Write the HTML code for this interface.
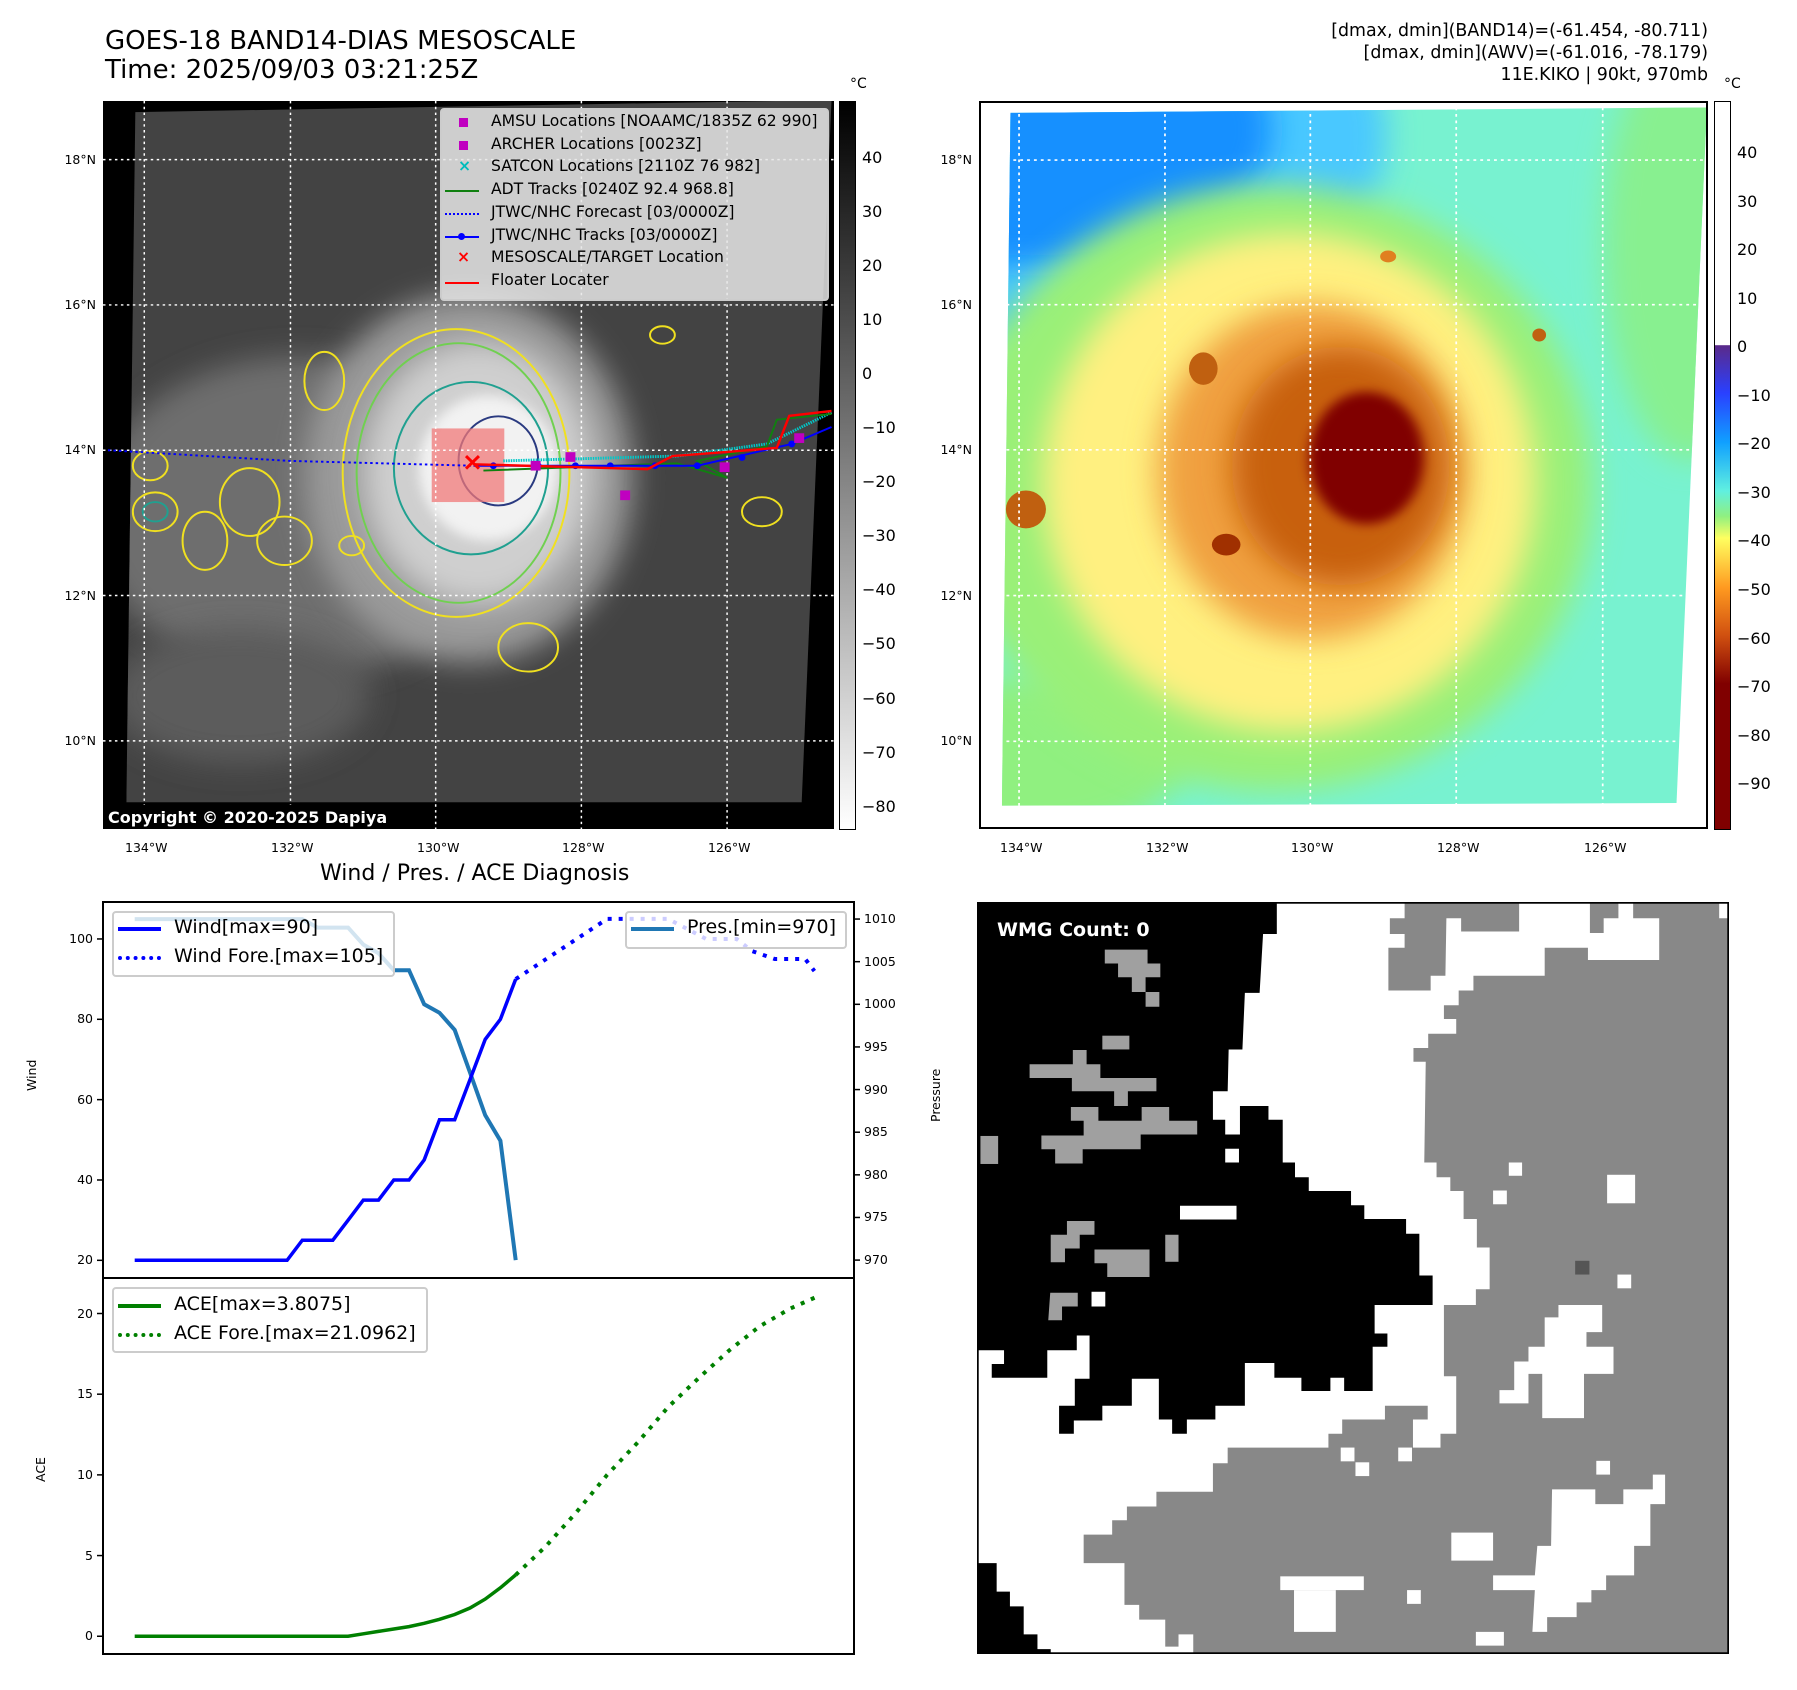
<!DOCTYPE html>
<html><head><meta charset="utf-8"><style>
body{margin:0;background:#fff;}
#root{position:relative;width:1797px;height:1690px;overflow:hidden;font-family:"DejaVu Sans","Liberation Sans",sans-serif;color:#000;}
.t{position:absolute;white-space:nowrap;}
.lab{position:absolute;font-size:12.5px;white-space:nowrap;}
.cb{position:absolute;font-size:16px;white-space:nowrap;}
.leg{position:absolute;background:rgba(230,230,230,0.85);border:2px solid #ccc;border-radius:4px;}
.le{position:absolute;font-size:15.6px;white-space:nowrap;}
.ce{position:absolute;font-size:19px;white-space:nowrap;}
</style></head><body>
<div id="root">
<div class="t" style="left:105px;top:26px;font-size:26px;">GOES-18 BAND14-DIAS MESOSCALE</div>
<div class="t" style="left:105px;top:55px;font-size:26px;">Time: 2025/09/03 03:21:25Z</div>
<div class="t" style="right:89px;top:21px;font-size:17.4px;text-align:right;line-height:21.8px;">[dmax, dmin](BAND14)=(-61.454, -80.711)<br>[dmax, dmin](AWV)=(-61.016, -78.179)<br>11E.KIKO | 90kt, 970mb</div>

<!-- LEFT MAP -->
<svg style="position:absolute;left:103px;top:101px;" width="731" height="728" viewBox="25 22 1470 1503" preserveAspectRatio="none">
<defs>
<filter id="bl" x="-50%" y="-50%" width="200%" height="200%"><feGaussianBlur stdDeviation="30"/></filter>
<filter id="bl2" x="-50%" y="-50%" width="200%" height="200%"><feGaussianBlur stdDeviation="12"/></filter>
<clipPath id="sat1"><polygon points="90,45 1490,20 1430,1470 72,1470"/></clipPath>
</defs>
<rect x="25" y="22" width="1470" height="1503" fill="#000"/>
<g clip-path="url(#sat1)">
<rect x="0" y="0" width="1600" height="1600" fill="#434343"/>
<ellipse cx="420" cy="880" rx="420" ry="330" fill="#6e6e6e" filter="url(#bl)"/>
<ellipse cx="760" cy="800" rx="330" ry="380" fill="#9a9a9a" filter="url(#bl)"/>
<ellipse cx="780" cy="790" rx="230" ry="270" fill="#cfcfcf" filter="url(#bl)"/>
<ellipse cx="800" cy="780" rx="140" ry="150" fill="#f2f2f2" filter="url(#bl2)"/>
<ellipse cx="300" cy="1250" rx="260" ry="140" fill="#5c5c5c" filter="url(#bl)"/>
</g>
<g fill="none" stroke-width="4">
<ellipse cx="735" cy="790" rx="228" ry="297" stroke="#f0e020"/>
<ellipse cx="740" cy="790" rx="205" ry="268" stroke="#70d050"/>
<ellipse cx="765" cy="780" rx="155" ry="178" stroke="#20a090"/>
<ellipse cx="820" cy="765" rx="80" ry="92" stroke="#2a3a80"/>
<ellipse cx="130" cy="870" rx="45" ry="40" stroke="#f0e020"/>
<ellipse cx="230" cy="930" rx="45" ry="60" stroke="#f0e020"/>
<ellipse cx="320" cy="850" rx="60" ry="70" stroke="#f0e020"/>
<ellipse cx="470" cy="600" rx="40" ry="60" stroke="#f0e020"/>
<ellipse cx="120" cy="775" rx="35" ry="30" stroke="#f0e020"/>
<ellipse cx="390" cy="930" rx="55" ry="50" stroke="#f0e020"/>
<ellipse cx="880" cy="1150" rx="60" ry="50" stroke="#f0e020"/>
<ellipse cx="1350" cy="870" rx="40" ry="30" stroke="#f0e020"/>
<ellipse cx="1150" cy="505" rx="25" ry="18" stroke="#f0e020"/>
<ellipse cx="525" cy="940" rx="25" ry="20" stroke="#f0e020"/>
<ellipse cx="130" cy="870" rx="25" ry="20" stroke="#20a090"/>
</g>
<rect x="686" y="698" width="146" height="152" fill="rgba(240,120,120,0.75)"/>
<g stroke="#fff" stroke-width="3" stroke-dasharray="5 7">
<line x1="108" y1="22" x2="108" y2="1525"/><line x1="402" y1="22" x2="402" y2="1525"/><line x1="694" y1="22" x2="694" y2="1525"/><line x1="987" y1="22" x2="987" y2="1525"/><line x1="1280" y1="22" x2="1280" y2="1525"/>
<line x1="25" y1="143" x2="1495" y2="143"/><line x1="25" y1="443" x2="1495" y2="443"/><line x1="25" y1="743" x2="1495" y2="743"/><line x1="25" y1="1043" x2="1495" y2="1043"/><line x1="25" y1="1343" x2="1495" y2="1343"/>
</g>
<polyline points="35,743 400,765 770,775" fill="none" stroke="#00f" stroke-width="4" stroke-dasharray="5 6"/>
<polyline points="830,765 1180,755 1360,730 1490,665" fill="none" stroke="#00c8c8" stroke-width="6" stroke-dasharray="3 2"/>
<polyline points="790,785 1180,770 1280,800 1220,765 1360,735 1380,680 1490,668" fill="none" stroke="#108010" stroke-width="4"/>
<polyline points="770,775 1220,775 1410,730 1490,695" fill="none" stroke="#00f" stroke-width="4"/>
<g fill="#00f"><circle cx="810" cy="775" r="7"/><circle cx="900" cy="775" r="7"/><circle cx="975" cy="775" r="7"/><circle cx="1045" cy="775" r="7"/><circle cx="1135" cy="775" r="7"/><circle cx="1220" cy="775" r="7"/><circle cx="1310" cy="758" r="7"/><circle cx="1410" cy="730" r="7"/></g>
<polyline points="770,772 1120,782 1170,755 1300,745 1380,738 1405,672 1490,662" fill="none" stroke="#f00" stroke-width="5"/>
<g fill="#c000c0"><rect x="955" y="747" width="20" height="20"/><rect x="1065" y="826" width="20" height="20"/><rect x="1265" y="768" width="20" height="20"/><rect x="1415" y="708" width="20" height="20"/><rect x="885" y="765" width="20" height="20"/></g>
<path d="M755,755 L781,781 M781,755 L755,781" stroke="#f00" stroke-width="6"/>
<rect x="25" y="1475" width="625" height="50" fill="#000"/>
</svg>
<div class="t" style="left:108px;top:808px;font-size:16px;font-weight:bold;color:#fff;">Copyright © 2020-2025 Dapiya</div>
<div class="leg" style="left:440px;top:108px;width:385px;height:189px;"></div>
<div>
<div style="position:absolute;left:459px;top:118px;width:9px;height:9px;background:#c000c0;"></div><div class="le" style="left:491px;top:112px;">AMSU Locations [NOAAMC/1835Z 62 990]</div>
<div style="position:absolute;left:459px;top:141px;width:9px;height:9px;background:#c000c0;"></div><div class="le" style="left:491px;top:135px;">ARCHER Locations [0023Z]</div>
<div class="le" style="left:458px;top:157px;color:#00bcbc;font-weight:bold;">×</div><div class="le" style="left:491px;top:157px;">SATCON Locations [2110Z 76 982]</div>
<div style="position:absolute;left:445px;top:190px;width:34px;height:2px;background:#108010;"></div><div class="le" style="left:491px;top:180px;">ADT Tracks [0240Z 92.4 968.8]</div>
<div style="position:absolute;left:445px;top:213px;width:34px;border-top:2px dotted #00f;"></div><div class="le" style="left:491px;top:203px;">JTWC/NHC Forecast [03/0000Z]</div>
<div style="position:absolute;left:445px;top:236px;width:34px;height:2px;background:#00f;"></div><div style="position:absolute;left:458px;top:233px;width:7px;height:7px;border-radius:50%;background:#00f;"></div><div class="le" style="left:491px;top:226px;">JTWC/NHC Tracks [03/0000Z]</div>
<div class="le" style="left:457px;top:248px;color:#f00;font-weight:bold;">×</div><div class="le" style="left:491px;top:248px;">MESOSCALE/TARGET Location</div>
<div style="position:absolute;left:445px;top:282px;width:34px;height:2px;background:#f00;"></div><div class="le" style="left:491px;top:271px;">Floater Locater</div>
</div>
<div style="position:absolute;left:839px;top:101px;width:15px;height:727px;border:1px solid #000;background:linear-gradient(#000,#fff);"></div>
<div class="cb" style="left:850px;top:76px;font-size:14px;">°C</div>

<!-- RIGHT MAP -->
<svg style="position:absolute;left:979px;top:101px;" width="729" height="728" viewBox="138 186 1274 1344" preserveAspectRatio="none">
<defs>
<clipPath id="sat2"><polygon points="193,208 1410,198 1357,1482 178,1487"/></clipPath>
<filter id="bl3" x="-50%" y="-50%" width="200%" height="200%"><feGaussianBlur stdDeviation="28"/></filter>
<filter id="bl4" x="-50%" y="-50%" width="200%" height="200%"><feGaussianBlur stdDeviation="10"/></filter>
</defs>
<rect x="138" y="186" width="1274" height="1344" fill="#fff"/>
<g clip-path="url(#sat2)">
<rect x="0" y="0" width="1600" height="1600" fill="#78f2d0"/>
<ellipse cx="1380" cy="450" rx="150" ry="400" fill="#88f090" filter="url(#bl3)"/>
<ellipse cx="200" cy="1400" rx="300" ry="150" fill="#90f080" filter="url(#bl3)"/>
<ellipse cx="250" cy="250" rx="600" ry="380" fill="#48c8ff" filter="url(#bl3)"/>
<ellipse cx="230" cy="240" rx="420" ry="250" fill="#1890ff" filter="url(#bl3)"/>
<ellipse cx="650" cy="900" rx="560" ry="560" fill="#9af078" filter="url(#bl3)"/>
<ellipse cx="680" cy="890" rx="430" ry="460" fill="#fff080" filter="url(#bl3)"/>
<ellipse cx="720" cy="870" rx="270" ry="310" fill="#f0a040" filter="url(#bl3)"/>
<ellipse cx="770" cy="860" rx="190" ry="220" fill="#c86010" filter="url(#bl3)"/>
<ellipse cx="815" cy="845" rx="100" ry="122" fill="#800000" filter="url(#bl4)"/>
<ellipse cx="220" cy="940" rx="35" ry="35" fill="#c06010"/>
<ellipse cx="570" cy="1005" rx="25" ry="20" fill="#a03000"/>
<ellipse cx="530" cy="680" rx="25" ry="30" fill="#c06010"/>
<ellipse cx="1117" cy="618" rx="12" ry="12" fill="#c06010"/>
<ellipse cx="853" cy="473" rx="14" ry="11" fill="#e08020"/>
</g>
<g stroke="#fff" stroke-width="3" stroke-dasharray="5 7">
<line x1="208" y1="186" x2="208" y2="1530"/><line x1="463" y1="186" x2="463" y2="1530"/><line x1="717" y1="186" x2="717" y2="1530"/><line x1="972" y1="186" x2="972" y2="1530"/><line x1="1228" y1="186" x2="1228" y2="1530"/>
<line x1="138" y1="295" x2="1412" y2="295"/><line x1="138" y1="562" x2="1412" y2="562"/><line x1="138" y1="830" x2="1412" y2="830"/><line x1="138" y1="1099" x2="1412" y2="1099"/><line x1="138" y1="1368" x2="1412" y2="1368"/>
</g>
</svg>
<div style="position:absolute;left:979px;top:101px;width:725px;height:724px;border:2px solid #000;"></div>
<div style="position:absolute;left:1714px;top:101px;width:15px;height:727px;border:1px solid #000;background:linear-gradient(#fff 0%,#fff 33.4%,#5a2a8a 33.5%,#2a40ff 40%,#10a0ff 46.8%,#60f0e0 53.5%,#90f080 57%,#ffff60 60%,#ff9a20 66.8%,#d05010 73.4%,#800000 80%,#800000 100%);"></div>
<div class="cb" style="left:1724px;top:76px;font-size:14px;">°C</div>

<!-- CHART -->
<div class="t" style="left:320px;top:861px;font-size:22px;">Wind / Pres. / ACE Diagnosis</div>
<svg id="chart" style="position:absolute;left:0;top:0;" width="1797" height="1690"></svg>
<div class="leg" style="left:112px;top:911px;width:279px;height:62px;background:rgba(255,255,255,0.8);"></div>
<div style="position:absolute;left:118px;top:927px;width:43px;height:4px;background:#00f;"></div><div class="ce" style="left:174px;top:916px;">Wind[max=90]</div>
<div style="position:absolute;left:118px;top:956px;width:43px;border-top:4px dotted #00f;"></div><div class="ce" style="left:174px;top:945px;">Wind Fore.[max=105]</div>
<div class="leg" style="left:625px;top:911px;width:218px;height:34px;background:rgba(255,255,255,0.8);"></div>
<div style="position:absolute;left:631px;top:927px;width:43px;height:4px;background:#1f77b4;"></div><div class="ce" style="left:687px;top:916px;">Pres.[min=970]</div>
<div class="leg" style="left:112px;top:1287px;width:312px;height:62px;background:rgba(255,255,255,0.8);"></div>
<div style="position:absolute;left:118px;top:1304px;width:43px;height:4px;background:#008000;"></div><div class="ce" style="left:174px;top:1293px;">ACE[max=3.8075]</div>
<div style="position:absolute;left:118px;top:1333px;width:43px;border-top:4px dotted #008000;"></div><div class="ce" style="left:174px;top:1322px;">ACE Fore.[max=21.0962]</div>
<div class="lab" style="left:24px;top:1091px;transform:rotate(-90deg);transform-origin:0 0;">Wind</div>
<div class="lab" style="left:928px;top:1122px;transform:rotate(-90deg);transform-origin:0 0;">Pressure</div>
<div class="lab" style="left:33px;top:1482px;transform:rotate(-90deg);transform-origin:0 0;">ACE</div>

<!-- WMG -->
<svg style="position:absolute;left:977px;top:902px;" width="752" height="752" viewBox="15 15 1530 1530" preserveAspectRatio="none">
<rect x="15" y="15" width="1530" height="1530" fill="#fff"/>
<polygon fill="#888" points="1350,18 1525,18 1525,48 1545,48 1545,1545 455,1545 455,1505 425,1505 425,1530 398,1530 398,1475 345,1475 345,1445 315,1445 315,1360 232,1360 232,1302 290,1302 290,1273 320,1273 320,1245 380,1245 380,1215 495,1215 495,1157 525,1157 525,1125 730,1125 730,1097 758,1097 758,1068 845,1068 845,1040 932,1040 932,1068 902,1068 902,1125 958,1125 958,1097 990,1097 990,980 965,980 965,835 1030,835 1030,803 1058,803 1058,718 1032,718 1032,660 1005,660 1005,603 978,603 978,575 950,575 950,545 925,545 928,340 903,340 903,312 933,312 933,283 990,283 990,253 965,253 965,225 995,225 995,195 1025,195 1025,165 1170,165 1170,108 1258,108 1258,133 1403,133 1403,48 1350,48"/>
<polygon fill="#888" points="1262,18 1320,18 1320,48 1290,48 1290,78 1262,78"/>
<polygon fill="#888" points="885,18 1118,18 1118,75 1000,75 1000,48 970,48 968,165 938,165 938,195 852,195 852,108 885,108 885,80 855,80 855,48 885,48"/>
<g fill="#fff">
<polygon points="1198,835 1287,835 1287,890 1255,890 1255,920 1310,920 1310,975 1250,975 1250,1065 1165,1065 1165,975 1137,975 1137,1035 1078,1035 1078,1008 1108,1008 1108,950 1137,950 1137,920 1170,920 1170,860 1198,860"/>
<polygon points="1390,1180 1415,1180 1415,1240 1385,1240 1385,1325 1352,1325 1352,1385 1295,1385 1295,1415 1265,1415 1265,1440 1235,1440 1235,1470 1175,1470 1175,1500 1145,1500 1150,1415 1065,1415 1065,1385 1150,1385 1155,1325 1183,1325 1185,1210 1273,1210 1273,1240 1330,1240 1330,1210 1390,1210"/>
<rect x="1297" y="570" width="57" height="58"/><rect x="1097" y="545" width="27" height="27"/><rect x="1065" y="602" width="28" height="28"/><rect x="1318" y="773" width="28" height="28"/>
<rect x="755" y="1125" width="28" height="28"/><rect x="872" y="1125" width="28" height="28"/><rect x="785" y="1155" width="28" height="28"/><rect x="1275" y="1152" width="28" height="28"/>
<rect x="980" y="1298" width="85" height="57"/><rect x="632" y="1387" width="170" height="28"/><rect x="660" y="1415" width="85" height="85"/><rect x="890" y="1415" width="28" height="28"/><rect x="1030" y="1500" width="57" height="28"/>
</g>
<polygon fill="#000" points="18,18 625,18 625,80 597,80 590,200 560,200 555,315 527,315 525,400 495,400 495,458 520,458 520,488 550,488 550,430 608,430 608,458 637,458 637,545 662,545 662,575 690,575 690,603 776,603 776,632 803,632 803,660 888,660 888,690 915,690 915,775 942,775 942,835 824,835 824,893 850,893 850,920 820,920 820,1010 762,1010 762,983 734,983 734,1010 675,1010 675,983 620,983 620,953 560,953 560,1040 500,1040 500,1068 442,1068 442,1097 412,1097 412,1068 385,1068 385,985 330,985 330,1040 270,1040 270,1070 212,1070 212,1097 182,1097 182,1040 214,1040 214,985 244,985 244,897 218,897 218,927 158,927 158,983 45,983 45,955 70,955 70,927 18,927"/>
<polygon fill="#000" points="18,1360 55,1360 55,1418 82,1418 82,1448 110,1448 110,1505 138,1505 138,1535 165,1535 165,1545 18,1545"/>
<g fill="#fff"><rect x="428" y="633" width="115" height="28"/><rect x="520" y="517" width="28" height="28"/><rect x="248" y="808" width="28" height="30"/></g>
<g fill="#a0a0a0">
<polygon points="275,112 362,112 362,140 388,140 388,168 358,168 358,198 386,198 386,228 358,228 358,198 330,198 330,168 302,168 302,140 275,140"/>
<rect x="270" y="287" width="55" height="28"/>
<polygon points="210,316 238,316 238,345 266,345 266,373 380,373 380,400 322,400 322,430 294,430 294,400 208,400 208,373 122,373 122,345 210,345"/>
<polygon points="206,432 262,432 262,460 350,460 350,432 406,432 406,460 463,460 463,488 348,488 348,518 230,518 230,547 174,547 174,518 146,518 146,490 232,490 232,460 206,460"/>
<rect x="22" y="491" width="36" height="57"/>
<polygon points="198,664 254,664 254,692 224,692 224,720 194,720 194,748 165,748 165,692 198,692"/>
<polygon points="254,722 366,722 366,778 280,778 280,750 254,750"/>
<rect x="398" y="692" width="27" height="55"/>
<polygon points="164,810 220,810 220,838 188,838 188,866 160,866"/>
</g>
<rect x="1232" y="745" width="29" height="28" fill="#555"/>
<rect x="16" y="16" width="1528" height="1528" fill="none" stroke="#000" stroke-width="5"/>
</svg>
<div class="t" style="left:997px;top:919px;font-size:19px;font-weight:bold;color:#fff;">WMG Count: 0</div>
</div>

<script>
// ---- chart data ----
const obsT = [0,1,2,3,4,5,6,7,8,9,10,11,12,13,14,15,16,17,18,19,20,21,22,23,24,25];
const windObs = [20,20,20,20,20,20,20,20,20,20,20,25,25,25,30,35,35,40,40,45,55,55,65,75,80,90];
const presObs = [1010,1010,1010,1010,1010,1010,1010,1010,1010,1010,1010,1010,1009,1009,1009,1007,1006,1004,1004,1000,999,997,992,987,984,970];
const aceObs = [0,0,0,0,0,0,0,0,0,0,0,0,0,0,0,0.15,0.3,0.45,0.6,0.8,1.05,1.35,1.75,2.3,3.0,3.8];
const foreT = [25,27,29,31,33,35,36,37.5,39.5,40.5,42,44,44.6];
const windFore = [90,95,100,105,105,105,103,100,100,97,95,95,92];
const aceForeT = [25,27,29,31,33,35,37,39,41,43,44.9];
const aceFore = [3.8,5.6,7.7,10,12,14.2,16,17.7,19.2,20.3,21.1];
const windTicks = [20,40,60,80,100];
const presTicks = [970,975,980,985,990,995,1000,1005,1010];
const aceTicks = [0,5,10,15,20];
const irTicks = [40,30,20,10,0,-10,-20,-30,-40,-50,-60,-70,-80];
const awvTicks = [40,30,20,10,0,-10,-20,-30,-40,-50,-60,-70,-80,-90];
const latLabels = ["18°N","16°N","14°N","12°N","10°N"];
const lonLabels = ["134°W","132°W","130°W","128°W","126°W"];

const NS='http://www.w3.org/2000/svg';
const svg=document.getElementById('chart');
const L=103,R=854,T1=902,B1=1278,T2=1278,B2=1654;
const X=t=>L+(t+2.08)/(47.2+2.08)*(R-L);
const YW=v=>B1-(v-15.6)/(109.2-15.6)*(B1-T1);
const YP=v=>B1-(v-967.9)/(1012-967.9)*(B1-T1);
const YA=v=>B2-(v+1.1)/(22.2+1.1)*(B2-T2);
function mk(tag,attrs){const e=document.createElementNS(NS,tag);for(const k in attrs)e.setAttribute(k,attrs[k]);svg.appendChild(e);return e;}
function line(ts,vs,fy,color,w,dash,name){
  const d=ts.map((t,i)=>(i?'L':'M')+X(t).toFixed(1)+','+fy(vs[i]).toFixed(1)).join('');
  const p=mk('path',{d:d,fill:'none',stroke:color,'stroke-width':w});
  if(dash)p.setAttribute('stroke-dasharray',dash);
  
  
}
line(obsT,presObs,YP,'#1f77b4',4,null,'pressure-line');
line(obsT,windObs,YW,'#0000ff',3.5,null,'wind-line');
line(foreT,windFore,YW,'#0000ff',4,'4 7','wind-forecast-line');
line(obsT,aceObs,YA,'#008000',3.5,null,'ace-line');
line(aceForeT,aceFore,YA,'#008000',4,'4 7','ace-forecast-line');
const f1=mk('rect',{x:L,y:T1,width:R-L,height:B1-T1,fill:'none',stroke:'#000','stroke-width':2});


const f2=mk('rect',{x:L,y:T2,width:R-L,height:B2-T2,fill:'none',stroke:'#000','stroke-width':2});


const root=document.getElementById('root');
function lab(x,y,txt,name,anchorRight,cls){
  const d=document.createElement('div');d.className=cls||'lab';d.textContent=txt;
  d.style.top=(y-8)+'px';
  if(anchorRight){d.style.right=(1797-x)+'px';}else{d.style.left=x+'px';}
  
  
  root.appendChild(d);return d;
}
windTicks.forEach(v=>{const y=YW(v);mk('line',{x1:L-6,y1:y,x2:L,y2:y,stroke:'#000','stroke-width':1.5});lab(L-10,y,String(v),'wind-tick-label',true);});
presTicks.forEach(v=>{const y=YP(v);mk('line',{x1:R,y1:y,x2:R+6,y2:y,stroke:'#000','stroke-width':1.5});lab(R+10,y,String(v),'pressure-tick-label',false);});
aceTicks.forEach(v=>{const y=YA(v);mk('line',{x1:L-6,y1:y,x2:L,y2:y,stroke:'#000','stroke-width':1.5});lab(L-10,y,String(v),'ace-tick-label',true);});
irTicks.forEach((v,i)=>{const y=156+i*54.05;lab(862,y,String(v).replace('-','−'),'ir-colorbar-tick',false,'cb');});
awvTicks.forEach((v,i)=>{const y=151+i*48.55;lab(1737,y,String(v).replace('-','−'),'awv-colorbar-tick',false,'cb');});
const latY=[160,305,450,596,741];
const lonXL=[144,290,436,581,727], lonXR=[1019,1165,1310,1456,1603];
latLabels.forEach((s,i)=>{lab(96,latY[i],s,'left-map-lat-label',true);lab(972,latY[i],s,'right-map-lat-label',true);});
lonLabels.forEach((s,i)=>{lab(lonXL[i]-19,848,s,'left-map-lon-label',false);lab(lonXR[i]-19,848,s,'right-map-lon-label',false);});
</script>
</body></html>
